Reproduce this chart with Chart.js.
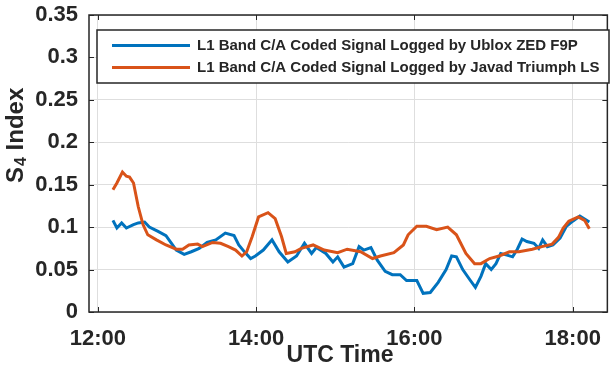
<!DOCTYPE html>
<html>
<head>
<meta charset="utf-8">
<script src="https://cdn.jsdelivr.net/npm/chart.js@4"></script>
<style>
  html, body { margin: 0; padding: 0; background: #fff; }
  #wrap { width: 615px; height: 370px; }
</style>
</head>
<body>
<div id="wrap"><canvas id="s4-chart" width="615" height="370"></canvas></div>
<script>
// UTC hours (decimal) and S4 values
const ubloxTimes = [12.19, 12.24, 12.30, 12.36, 12.45, 12.51, 12.59, 12.65, 12.76, 12.86, 12.93, 12.99,
  13.09, 13.18, 13.28, 13.38, 13.49, 13.61, 13.72, 13.78, 13.86, 13.93, 13.99, 14.09, 14.20, 14.29,
  14.40, 14.51, 14.61, 14.70, 14.76, 14.88, 14.97, 15.03, 15.11, 15.22, 15.30, 15.36, 15.45, 15.53,
  15.63, 15.72, 15.82, 15.90, 16.03, 16.11, 16.20, 16.30, 16.40, 16.47, 16.53, 16.61, 16.70, 16.77,
  16.84, 16.90, 16.97, 17.03, 17.09, 17.17, 17.24, 17.30, 17.36, 17.42, 17.51, 17.57, 17.62, 17.68,
  17.75, 17.84, 17.92, 18.00, 18.09, 18.21];
const ubloxS4 = [0.108, 0.099, 0.105, 0.099, 0.103, 0.105, 0.106, 0.100, 0.095, 0.090, 0.081, 0.073,
  0.068, 0.071, 0.075, 0.082, 0.085, 0.093, 0.090, 0.079, 0.070, 0.063, 0.066, 0.073, 0.085, 0.071,
  0.059, 0.066, 0.081, 0.069, 0.076, 0.069, 0.059, 0.065, 0.053, 0.057, 0.077, 0.073, 0.076, 0.061,
  0.048, 0.044, 0.044, 0.037, 0.037, 0.022, 0.023, 0.035, 0.050, 0.066, 0.065, 0.050, 0.038, 0.029,
  0.042, 0.057, 0.050, 0.057, 0.069, 0.067, 0.065, 0.074, 0.086, 0.083, 0.081, 0.075, 0.085, 0.077,
  0.079, 0.087, 0.101, 0.107, 0.113, 0.106];

const javadTimes = [12.19, 12.24, 12.31, 12.36, 12.40, 12.45, 12.51, 12.57, 12.63, 12.74, 12.86, 12.99,
  13.07, 13.15, 13.26, 13.32, 13.45, 13.55, 13.65, 13.74, 13.82, 13.88, 13.95, 14.03, 14.15, 14.24,
  14.32, 14.38, 14.49, 14.57, 14.72, 14.86, 15.03, 15.15, 15.32, 15.47, 15.57, 15.74, 15.86, 15.92,
  16.03, 16.15, 16.28, 16.42, 16.53, 16.65, 16.76, 16.84, 16.95, 17.07, 17.20, 17.32, 17.49, 17.61,
  17.74, 17.82, 17.88, 17.95, 18.07, 18.15, 18.21];
const javadS4 = [0.144, 0.152, 0.165, 0.160, 0.159, 0.152, 0.124, 0.103, 0.091, 0.085, 0.079, 0.074,
  0.074, 0.079, 0.080, 0.077, 0.082, 0.081, 0.077, 0.073, 0.066, 0.071, 0.089, 0.112, 0.117, 0.110,
  0.089, 0.069, 0.071, 0.075, 0.079, 0.073, 0.070, 0.074, 0.071, 0.063, 0.066, 0.070, 0.079, 0.091,
  0.101, 0.101, 0.097, 0.100, 0.091, 0.069, 0.057, 0.057, 0.063, 0.066, 0.071, 0.071, 0.074, 0.077,
  0.080, 0.088, 0.099, 0.107, 0.112, 0.108, 0.098];

const seriesLabels = [
  "L1 Band C/A Coded Signal Logged by Ublox ZED F9P",
  "L1 Band C/A Coded Signal Logged by Javad Triumph LS",
];
const xTicks = [12, 14, 16, 18];

const BLUE = "#0072BD";
const ORANGE = "#D95319";
const INK = "#262626";
const FONT = "'Liberation Sans', Arial, sans-serif";

const toPoints = (xs, ys) => xs.map((x, i) => ({ x: x, y: ys[i] }));

// box, inward ticks, axis titles and legend, matlab style
const matlabFrame = {
  id: "matlabFrame",
  afterDraw(chart) {
    const { ctx, chartArea: a, scales } = chart;
    ctx.save();
    ctx.strokeStyle = INK;
    ctx.lineWidth = 1.5;
    ctx.strokeRect(a.left, a.top, a.right - a.left, a.bottom - a.top);

    ctx.lineWidth = 1;
    ctx.beginPath();
    xTicks.forEach((t) => {
      const px = Math.round(scales.x.getPixelForValue(t)) + 0.5;
      ctx.moveTo(px, a.bottom); ctx.lineTo(px, a.bottom - 5);
      ctx.moveTo(px, a.top); ctx.lineTo(px, a.top + 5);
    });
    for (let v = 0; v <= 0.35 + 1e-9; v += 0.05) {
      const py = Math.round(scales.y.getPixelForValue(v)) + 0.5;
      ctx.moveTo(a.left, py); ctx.lineTo(a.left + 5, py);
      ctx.moveTo(a.right, py); ctx.lineTo(a.right - 5, py);
    }
    ctx.stroke();

    // x title
    ctx.fillStyle = INK;
    ctx.font = `bold 23px ${FONT}`;
    ctx.textAlign = "center";
    ctx.textBaseline = "alphabetic";
    ctx.fillText("UTC Time", 340, 362);

    // y title with subscript
    ctx.save();
    ctx.translate(23, 183);
    ctx.rotate(-Math.PI / 2);
    ctx.textAlign = "left";
    ctx.font = `bold 24px ${FONT}`;
    ctx.fillText("S", 0, 0);
    let w = ctx.measureText("S").width;
    ctx.font = `bold 16px ${FONT}`;
    ctx.fillText("4", w + 1, 3);
    w += ctx.measureText("4").width + 1;
    ctx.font = `bold 24px ${FONT}`;
    ctx.fillText(" Index", w, 0);
    ctx.restore();

    // legend
    const lx = 97, ly = 30, lw = 512, lh = 53;
    ctx.fillStyle = "#fff";
    ctx.fillRect(lx, ly, lw, lh);
    ctx.strokeStyle = INK;
    ctx.lineWidth = 1.5;
    ctx.strokeRect(lx, ly, lw, lh);
    const rows = [45.5, 67.5];
    chart.data.datasets.forEach((ds, i) => {
      ctx.strokeStyle = ds.borderColor;
      ctx.lineWidth = 3;
      ctx.beginPath();
      ctx.moveTo(112, rows[i]); ctx.lineTo(190, rows[i]);
      ctx.stroke();
      ctx.fillStyle = INK;
      ctx.font = `bold 15px ${FONT}`;
      ctx.textAlign = "left";
      ctx.textBaseline = "middle";
      ctx.fillText(ds.label, 197, rows[i] + 0.5);
    });
    ctx.restore();
  },
};

new Chart(document.getElementById("s4-chart"), {
  type: "line",
  data: {
    datasets: [
      {
        label: seriesLabels[0],
        data: toPoints(ubloxTimes, ubloxS4),
        borderColor: BLUE,
        borderWidth: 3,
        pointRadius: 0,
        order: 2,
      },
      {
        label: seriesLabels[1],
        data: toPoints(javadTimes, javadS4),
        borderColor: ORANGE,
        borderWidth: 3,
        pointRadius: 0,
        order: 1,
      },
    ],
  },
  options: {
    responsive: false,
    animation: false,
    devicePixelRatio: 1,
    layout: { padding: { top: 15, right: 2, left: 0, bottom: 0 } },
    plugins: {
      legend: { display: false },
      tooltip: { enabled: false },
    },
    scales: {
      x: {
        type: "linear",
        min: 11.8875,
        max: 18.4375,
        afterBuildTicks: (scale) => {
          scale.ticks = xTicks.map((v) => ({ value: v }));
        },
        afterFit: (scale) => { scale.height = 58; },
        ticks: {
          callback: (v) => `${v}:00`,
          color: INK,
          font: { family: FONT, size: 22, weight: "bold" },
          padding: 14,
          maxRotation: 0,
        },
        grid: { color: "#dedede", lineWidth: 1, drawTicks: false },
        border: { display: false },
      },
      y: {
        min: 0,
        max: 0.35,
        ticks: {
          stepSize: 0.05,
          callback: (v) => String(Number(v.toFixed(2))),
          color: INK,
          font: { family: FONT, size: 22, weight: "bold" },
          padding: 11,
        },
        afterFit: (scale) => {
          scale.width = 89;
          // let the top label overhang the frame like the original
          scale.paddingTop = 0;
          scale.paddingBottom = 0;
        },
        grid: { color: "#dedede", lineWidth: 1, drawTicks: false },
        border: { display: false },
      },
    },
  },
  plugins: [matlabFrame],
});
</script>
</body>
</html>
